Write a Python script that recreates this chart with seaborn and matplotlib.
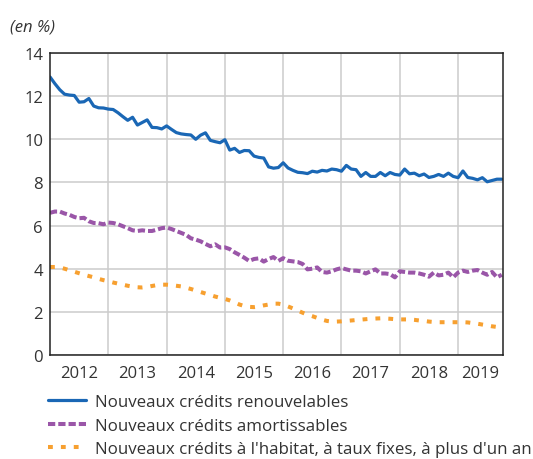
import numpy as np
import pandas as pd
import matplotlib
matplotlib.use("Agg")
import matplotlib.pyplot as plt
import seaborn as sns

# ---- data (monthly, Jan 2012 -> Oct 2019) ----
start_year = 2012
renouvelables = [12.89, 12.58, 12.30, 12.09, 12.05, 12.03, 11.72, 11.74, 11.89, 11.54,
                 11.46, 11.45, 11.40, 11.38, 11.23, 11.05, 10.88, 11.02, 10.66, 10.78,
                 10.90, 10.55, 10.54, 10.48, 10.62, 10.46, 10.31, 10.25, 10.22, 10.20,
                 10.00, 10.19, 10.30, 9.95, 9.89, 9.84, 9.98, 9.50, 9.58, 9.39,
                 9.48, 9.47, 9.22, 9.16, 9.13, 8.72, 8.66, 8.69, 8.91, 8.67,
                 8.56, 8.47, 8.45, 8.41, 8.52, 8.48, 8.56, 8.53, 8.62, 8.59,
                 8.52, 8.79, 8.62, 8.59, 8.28, 8.46, 8.28, 8.28, 8.46, 8.31,
                 8.46, 8.37, 8.34, 8.62, 8.40, 8.43, 8.31, 8.39, 8.23, 8.28,
                 8.37, 8.28, 8.43, 8.28, 8.22, 8.53, 8.23, 8.19, 8.12, 8.22,
                 8.03, 8.09, 8.15, 8.15]
amortissables = [6.59, 6.65, 6.65, 6.56, 6.50, 6.40, 6.34, 6.36, 6.20, 6.12,
                 6.11, 6.06, 6.14, 6.12, 6.06, 5.97, 5.88, 5.78, 5.75, 5.78,
                 5.75, 5.75, 5.81, 5.88, 5.91, 5.84, 5.75, 5.66, 5.57, 5.41,
                 5.35, 5.27, 5.15, 5.04, 5.13, 4.98, 4.99, 4.91, 4.76, 4.64,
                 4.51, 4.36, 4.45, 4.48, 4.33, 4.45, 4.54, 4.36, 4.49, 4.37,
                 4.34, 4.31, 4.22, 3.97, 4.00, 4.06, 3.85, 3.82, 3.88, 3.97,
                 4.03, 3.97, 3.91, 3.91, 3.88, 3.78, 3.88, 3.97, 3.78, 3.78,
                 3.75, 3.60, 3.88, 3.85, 3.82, 3.82, 3.78, 3.72, 3.63, 3.82,
                 3.69, 3.72, 3.82, 3.60, 3.82, 3.91, 3.85, 3.91, 3.94, 3.82,
                 3.72, 3.85, 3.60, 3.72]
habitat = [4.08, 4.08, 4.06, 4.00, 3.93, 3.86, 3.79, 3.72, 3.66, 3.60,
           3.53, 3.47, 3.42, 3.36, 3.31, 3.26, 3.21, 3.17, 3.14, 3.13,
           3.15, 3.20, 3.24, 3.26, 3.26, 3.24, 3.21, 3.18, 3.12, 3.06,
           2.99, 2.92, 2.85, 2.78, 2.71, 2.65, 2.60, 2.53, 2.44, 2.34,
           2.27, 2.23, 2.22, 2.25, 2.30, 2.34, 2.38, 2.38, 2.34, 2.25,
           2.16, 2.06, 1.96, 1.87, 1.80, 1.72, 1.64, 1.58, 1.55, 1.55,
           1.56, 1.58, 1.60, 1.62, 1.64, 1.66, 1.68, 1.69, 1.70, 1.69,
           1.68, 1.66, 1.65, 1.65, 1.65, 1.63, 1.60, 1.58, 1.55, 1.53,
           1.52, 1.52, 1.52, 1.52, 1.52, 1.52, 1.51, 1.48, 1.45, 1.41,
           1.37, 1.33, 1.30]
labels = ["Nouveaux crédits renouvelables",
          "Nouveaux crédits amortissables",
          "Nouveaux crédits à l'habitat, à taux fixes, à plus d'un an"]
year_labels = ["2012", "2013", "2014", "2015", "2016", "2017", "2018", "2019"]
y_ticks = [0, 2, 4, 6, 8, 10, 12, 14]

def months(n):
    return [start_year + k / 12 for k in range(n)]

sns.set_theme(style="white")
plt.rcParams["font.family"] = ["Open Sans", "DejaVu Sans"]

fig = plt.figure(figsize=(5.33, 4.6), dpi=100)
ax = fig.add_axes([50 / 533, 1 - 356 / 460, 453 / 533, 302 / 460])

txt = "#333333"
series = [
    (renouvelables, "#1a67b5", 2.3, None),
    (amortissables, "#9a56a8", 2.9, (1.8, 0.75)),
    (habitat, "#f7a030", 2.9, (1.2, 2.0)),
]
for (vals, col, lw, dash), lab in zip(series, labels):
    df = pd.DataFrame({"x": months(len(vals)), "y": vals})
    sns.lineplot(data=df, x="x", y="y", color=col, linewidth=lw, ax=ax,
                 estimator=None, label=lab)
    if dash is not None:
        ax.lines[-1].set_dashes(dash)

x_right = start_year + 93.25 / 12
ax.set_xlim(start_year, x_right)
ax.set_ylim(0, 14)
ax.set_xlabel("")
ax.set_ylabel("")

# gridlines at year boundaries, labels at mid visible year
ax.set_xticks([start_year + k for k in range(1, 8)])
ax.set_xticklabels([])
mids = [(start_year + k + min(start_year + k + 1, x_right)) / 2 for k in range(len(year_labels))]
ax.set_xticks(mids, minor=True)
ax.set_xticklabels(year_labels, minor=True)
ax.set_yticks(y_ticks)
ax.set_yticklabels([str(v) for v in y_ticks])
ax.tick_params(axis="both", which="both", length=0, labelsize=12, colors=txt)
ax.tick_params(axis="x", which="minor", pad=7)
ax.tick_params(axis="y", pad=5)
ax.grid(True, which="major", color="#cccccc", linewidth=1.1)
ax.set_axisbelow(True)
for s in ax.spines.values():
    s.set_visible(True)
    s.set_color("#222222")
    s.set_linewidth(1.1)

fig.text(10 / 533, 1 - 27 / 460, "(en %)", fontsize=12, style="italic",
         color=txt, va="center", ha="left")

ax.get_legend().remove()
handles = ax.lines[:3]
leg = fig.legend(handles, labels, loc="upper left",
                 bbox_to_anchor=(48 / 533, 1 - 395 / 460), frameon=False,
                 fontsize=12.2, handlelength=2.25, handletextpad=0.5,
                 labelspacing=0.45, borderaxespad=0, borderpad=0)
for t in leg.get_texts():
    t.set_color(txt)

fig.savefig("out.png", dpi=100)
